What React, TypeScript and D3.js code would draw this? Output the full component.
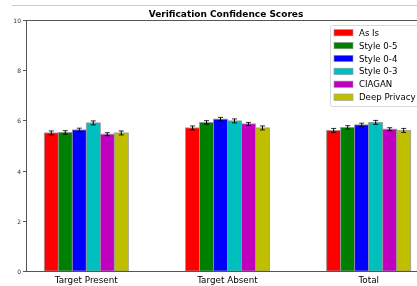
import React, { useEffect, useRef } from 'react';
import * as d3 from 'd3';

const groups = ['Target Present', 'Target Absent', 'Total'];
const seriesNames = ['As Is', 'Style 0-5', 'Style 0-4', 'Style 0-3', 'CIAGAN', 'Deep Privacy'];
const seriesColors = ['#ff0000', '#008000', '#0000ff', '#00bfbf', '#bf00bf', '#bfbf00'];
// values per series, one per group
const asIs = [5.5, 5.7, 5.6];
const style05 = [5.52, 5.92, 5.72];
const style04 = [5.62, 6.05, 5.82];
const style03 = [5.9, 5.98, 5.92];
const ciagan = [5.45, 5.86, 5.65];
const deepPrivacy = [5.5, 5.7, 5.6];
const errors = [0.08, 0.07, 0.07, 0.08, 0.06, 0.08];
const yTicks = [0, 2, 4, 6, 8, 10];

const App = () => {
    const ref = useRef(null);

    useEffect(() => {
        const svgWidth = 417, svgHeight = 286;
        const margin = { top: 20, left: 26, bottom: 15 };
        const plotRight = 427;
        const height = svgHeight - margin.top - margin.bottom;
        const allSeries = [asIs, style05, style04, style03, ciagan, deepPrivacy];

        const svg = d3.select(ref.current)
            .attr('width', svgWidth)
            .attr('height', svgHeight)
            .style('font-family', 'DejaVu Sans');
        svg.selectAll('*').remove();

        // faint line at the very top
        svg.append('line')
            .attr('x1', 12).attr('x2', svgWidth)
            .attr('y1', 5.5).attr('y2', 5.5)
            .attr('stroke', '#cccccc').attr('stroke-width', 1);

        const x0 = d3.scaleBand()
            .domain(groups)
            .range([margin.left, plotRight])
            .paddingInner(0.4)
            .paddingOuter(0.12);
        const x1 = d3.scaleBand()
            .domain(seriesNames)
            .range([0, 84]);
        const yScale = d3.scaleLinear().domain([0, 10]).range([margin.top + height, margin.top]);

        const g = svg.append('g');
        groups.forEach((grp, gi) => {
            const center = x0(grp) + x0.bandwidth() / 2;
            const start = center - 41;
            seriesNames.forEach((s, si) => {
                const v = allSeries[si][gi];
                const bx = start + x1(s);
                g.append('rect')
                    .attr('x', bx)
                    .attr('y', yScale(v))
                    .attr('width', x1.bandwidth())
                    .attr('height', yScale(0) - yScale(v))
                    .attr('fill', seriesColors[si])
                    .attr('stroke', '#999999')
                    .attr('stroke-width', 0.8);
                const cx = bx + x1.bandwidth() / 2;
                const e = errors[si];
                g.append('line')
                    .attr('x1', cx).attr('x2', cx)
                    .attr('y1', yScale(v + e)).attr('y2', yScale(v - e))
                    .attr('stroke', '#000').attr('stroke-width', 1);
                [v + e, v - e].forEach(val => {
                    g.append('line')
                        .attr('x1', cx - 2.5).attr('x2', cx + 2.5)
                        .attr('y1', yScale(val)).attr('y2', yScale(val))
                        .attr('stroke', '#000').attr('stroke-width', 0.8);
                });
            });
            svg.append('text')
                .attr('x', center + 1)
                .attr('y', yScale(0) + 12)
                .attr('text-anchor', 'middle')
                .style('font-size', '8.8px')
                .attr('fill', '#000')
                .text(grp);
        });

        // frame
        svg.append('rect')
            .attr('x', margin.left + 0.5)
            .attr('y', margin.top + 0.5)
            .attr('width', plotRight - margin.left)
            .attr('height', height)
            .attr('fill', 'none')
            .attr('stroke', '#555555')
            .attr('stroke-width', 1);

        // y ticks
        const yAxis = svg.append('g');
        yTicks.forEach(t => {
            const yy = Math.round(yScale(t)) + 0.5;
            yAxis.append('line')
                .attr('x1', margin.left - 3).attr('x2', margin.left)
                .attr('y1', yy).attr('y2', yy)
                .attr('stroke', '#555555');
            yAxis.append('text')
                .attr('x', margin.left - 5)
                .attr('y', yy)
                .attr('dy', '0.35em')
                .attr('text-anchor', 'end')
                .style('font-size', '6px')
                .attr('fill', '#333')
                .text(t);
        });

        svg.append('text')
            .attr('x', 226)
            .attr('y', 17)
            .attr('text-anchor', 'middle')
            .style('font-size', '9px')
            .style('font-weight', 'bold')
            .text('Verification Confidence Scores');

        // legend
        const legend = svg.append('g').attr('transform', 'translate(330, 25)');
        legend.append('rect')
            .attr('x', 0.5).attr('y', 0.5)
            .attr('width', 92).attr('height', 81)
            .attr('rx', 2)
            .attr('fill', '#ffffff')
            .attr('fill-opacity', 0.8)
            .attr('stroke', '#d8d8d8');
        seriesNames.forEach((s, i) => {
            const row = legend.append('g').attr('transform', `translate(0, ${7.7 + i * 12.9})`);
            row.append('rect')
                .attr('x', 4).attr('y', -3.2)
                .attr('width', 19).attr('height', 6.4)
                .attr('fill', seriesColors[i])
                .attr('stroke', '#999999')
                .attr('stroke-width', 0.6);
            row.append('text')
                .attr('x', 29)
                .attr('y', 0)
                .attr('dy', '0.35em')
                .style('font-size', '8.6px')
                .attr('fill', '#000')
                .text(s);
        });
    }, []);

    return (
        <div style={{ position: 'fixed', left: 0, top: 0 }}>
            <svg ref={ref}></svg>
        </div>
    );
};

export default App;
